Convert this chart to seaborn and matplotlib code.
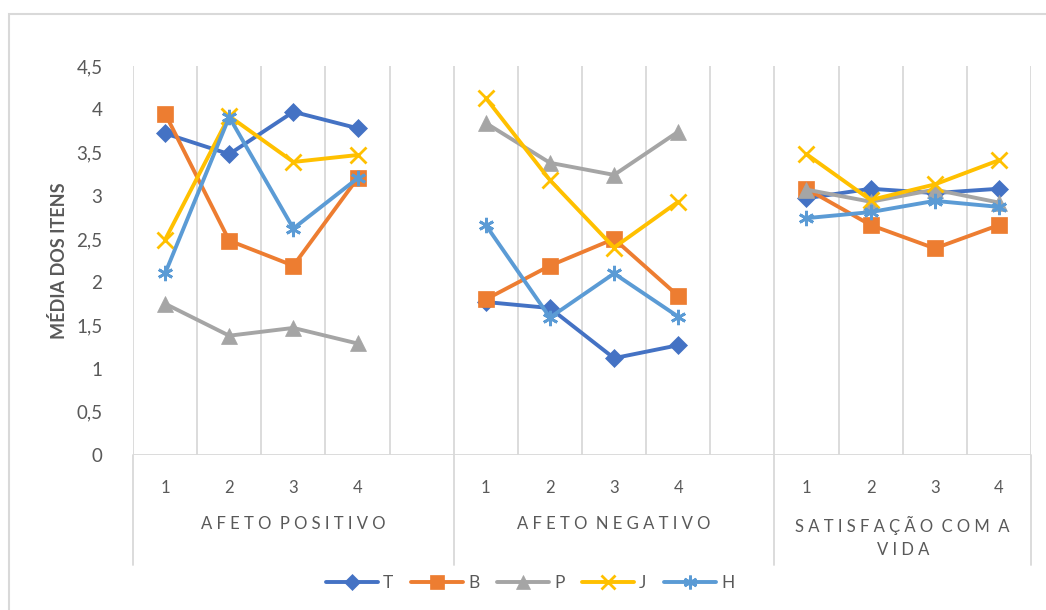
import numpy as np
import pandas as pd
import matplotlib
matplotlib.use("Agg")
import matplotlib.pyplot as plt
from matplotlib.lines import Line2D
from matplotlib.patches import Rectangle
import matplotlib.transforms as mtransforms
import seaborn as sns

# ---- data -------------------------------------------------------------
groups = ["AFETO POSITIVO", "AFETO NEGATIVO", "SATISFAÇÃO COM A\nVIDA"]
items = ["1", "2", "3", "4"]
series_names = ["T", "B", "P", "J", "H"]

T = [[3.72, 3.48, 3.97, 3.78], [1.77, 1.70, 1.12, 1.27], [2.97, 3.08, 3.03, 3.08]]
B = [[3.95, 2.48, 2.19, 3.20], [1.80, 2.19, 2.50, 1.84], [3.08, 2.66, 2.39, 2.66]]
P = [[1.75, 1.38, 1.47, 1.29], [3.84, 3.38, 3.24, 3.74], [3.07, 2.93, 3.07, 2.92]]
J = [[2.49, 3.92, 3.39, 3.47], [4.13, 3.18, 2.40, 2.93], [3.48, 2.95, 3.13, 3.41]]
H = [[2.10, 3.91, 2.62, 3.20], [2.66, 1.59, 2.10, 1.60], [2.74, 2.81, 2.94, 2.87]]
values = {"T": T, "B": B, "P": P, "J": J, "H": H}

y_ticks = [0, 0.5, 1, 1.5, 2, 2.5, 3, 3.5, 4, 4.5]

# ---- style ------------------------------------------------------------
sns.set_style("white")
plt.rcParams["font.family"] = ["Lato", "DejaVu Sans"]

colors = {"T": "#4472C4", "B": "#ED7D31", "P": "#A5A5A5", "J": "#FFC000", "H": "#5B9BD5"}
markers = {"T": "D", "B": "s", "P": "^", "J": "x", "H": (6, 2, 0)}
msizes = {"T": 9, "B": 11.5, "P": 11.5, "J": 11, "H": 11}
grid_c = "#D9D9D9"
text_c = "#595959"

# slots: 5 per group for first two groups (last one empty), 4 in the last
group_start = [0, 5, 10]
n_slots = 14

rows = []
for s in series_names:
    for g, start in enumerate(group_start):
        for i, v in enumerate(values[s][g]):
            rows.append({"serie": s, "grupo": g, "pos": start + i, "valor": v})
df = pd.DataFrame(rows)

W, Hpx = 1046, 610
fig = plt.figure(figsize=(W / 100, Hpx / 100), dpi=100)
ax = fig.add_axes([133 / W, 1 - 455 / Hpx, (1031 - 133) / W, (455 - 66) / Hpx])
ax.set_xlim(-0.5, n_slots - 0.5)
ax.set_ylim(0, 4.5)

# vertical grid lines at slot boundaries
for b in np.arange(-0.5, n_slots, 1.0):
    ax.axvline(b, color=grid_c, lw=1.3, zorder=0)

# group separators running down through the label area
trans = mtransforms.blended_transform_factory(ax.transData, ax.transAxes)
for b in [-0.5, 4.5, 9.5, n_slots - 0.5]:
    ax.plot([b, b], [0, -0.283], transform=trans, color=grid_c, lw=1.3,
            clip_on=False, zorder=0)
ax.axhline(0, color=grid_c, lw=1.3, zorder=1)

# series lines, one segment per group
for s in series_names:
    for g in range(len(groups)):
        d = df[(df.serie == s) & (df.grupo == g)]
        sns.lineplot(data=d, x="pos", y="valor", ax=ax, color=colors[s],
                     marker=markers[s], markersize=msizes[s],
                     markeredgecolor=colors[s], markerfacecolor=colors[s],
                     markeredgewidth=2 if s in ("J", "H") else 0.5,
                     linewidth=2.8, legend=False, zorder=3, clip_on=False)

for sp in ax.spines.values():
    sp.set_visible(False)

ax.set_yticks(y_ticks)
ax.set_yticklabels([f"{t:g}".replace(".", ",") for t in y_ticks],
                   fontsize=13.5, color=text_c)
ax.tick_params(axis="y", length=0, pad=22)

xt = [start + i for start in group_start for i in range(len(items))]
ax.set_xticks(xt)
ax.set_xticklabels(items * len(groups), fontsize=12, color=text_c)
ax.tick_params(axis="x", length=0, pad=18)
ax.set_xlabel("")
ax.set_ylabel("MÉDIA DOS ITENS", fontsize=13, color=text_c,
              fontweight="bold", labelpad=6)

# group labels with letter spacing
def spaced(txt):
    return "\n".join("  ".join(" ".join(w) for w in line.split(" "))
                     for line in txt.split("\n"))

centers = [2.0, 7.0, 11.5]
for name, cx in zip(groups, centers):
    ax.text(cx, -0.158, spaced(name), transform=trans, ha="center", va="top",
            fontsize=12, color=text_c, linespacing=1.5)

# legend
handles = [Line2D([0], [0], color=colors[s], marker=markers[s],
                  markersize=msizes[s] * 0.9, markeredgecolor=colors[s],
                  markeredgewidth=2 if s in ("J", "H") else 0.5, lw=2.8)
           for s in series_names]
fig.legend(handles, series_names, loc="center", bbox_to_anchor=(530 / W, 1 - 583 / Hpx),
           ncol=5, frameon=False, fontsize=12.5, labelcolor=text_c,
           handlelength=3.0, columnspacing=1.0, handletextpad=0.3)

# chart-area border
fig.add_artist(Rectangle((9 / W, -0.1), 1.2, 1 - 14 / Hpx + 0.1,
                         transform=fig.transFigure, fill=False,
                         edgecolor=grid_c, lw=1.5))

fig.savefig("out.png", dpi=100, facecolor="white")
